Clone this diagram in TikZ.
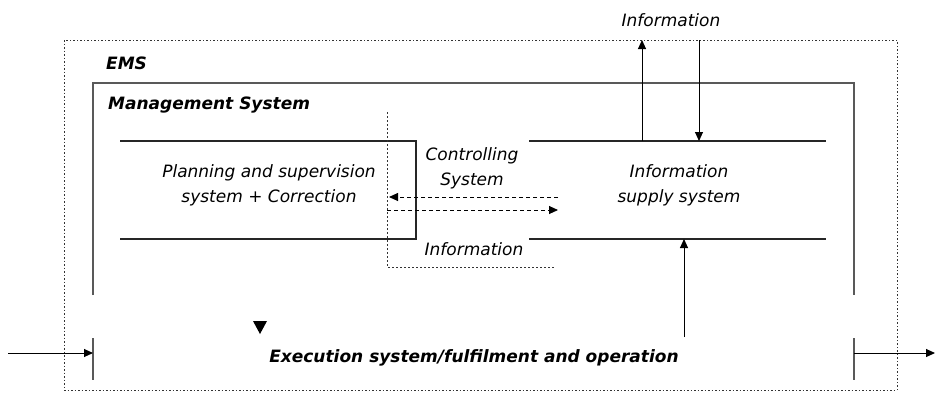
\documentclass[tikz,border=0pt]{standalone}
\usepackage{fontspec}
\setmainfont{DejaVu Sans}
\usetikzlibrary{arrows.meta,positioning}
\tikzset{
  lbl/.style={font=\fontsize{17}{25}\selectfont\itshape,align=center,inner sep=1pt},
  title/.style={font=\fontsize{17}{20}\selectfont\bfseries\itshape,anchor=west,inner sep=1pt},
  frame/.style={draw=black!65,line width=1.4pt},
  wall/.style={draw=black!85,line width=1.1pt},
  emsbox/.style={draw=black!80,line width=0.9pt,dash pattern=on 1.5pt off 2pt},
  ctrlbox/.style={draw=black!80,line width=0.9pt,dash pattern=on 1.5pt off 2.5pt},
  flow/.style={-{Triangle[length=9pt,width=8pt]},draw=black,line width=1pt},
  ctrl/.style={-{Triangle[length=9pt,width=8pt]},draw=black,line width=0.9pt,dash pattern=on 4pt off 3pt}
}
\begin{document}
\begin{tikzpicture}[x=1pt,y=-1pt]
\useasboundingbox (0,0) rectangle (936,392);
% EMS and management frames
\draw[emsbox] (64,40) rectangle (897,390);
\node[title] (ems) at (105,63) {EMS};
\draw[frame] (93,295) -- (93,83) -- (854,83) -- (854,295);
\node[title] (ms) at (107,105) {Management System};
% planning box
\draw[wall] (120,141) -- (416,141) -- (416,239) -- (120,239);
\node[lbl] (plan) at (269,185) {Planning and supervision\\system + Correction};
% information supply box
\draw[wall] (529,141) -- (826,141);
\draw[wall] (529,239) -- (826,239);
\node[lbl] (supply) at (679,185) {Information\\supply system};
% controlling system
\draw[ctrlbox] (387,112) -- (387,267) -- (555,267);
\node[lbl] (ctrlsys) at (472,168) {Controlling\\System};
\node[lbl] (ctrlinfo) at (474,249) {Information};
\coordinate (cR1) at (558,197);
\coordinate (cL1) at (389,197);
\coordinate (cL2) at (387,210);
\coordinate (cR2) at (558,210);
\draw[ctrl] (cR1) -- (cL1);
\draw[ctrl] (cL2) -- (cR2);
% information to and from outside
\node[lbl] (topinfo) at (671,20) {Information};
\coordinate (sOut) at (642,141);
\coordinate (eOut) at (642,40);
\coordinate (eIn) at (699,40);
\coordinate (sIn) at (699,141);
\draw[flow] (sOut) -- (eOut);
\draw[flow] (eIn) -- (sIn);
% execution system
\node[title,anchor=center] (exec) at (474,358) {Execution system/fulfilment and operation};
\coordinate (xUp) at (684,337);
\coordinate (sBot) at (684,239);
\draw[flow] (xUp) -- (sBot);
\fill (253,321) -- (267,321) -- (260,334) -- cycle;
\draw[frame] (93,338) -- (93,380);
\draw[frame] (854,338) -- (854,380);
\coordinate (inStart) at (8,353);
\coordinate (inEnd) at (93,353);
\coordinate (outStart) at (854,353);
\coordinate (outEnd) at (935,353);
\draw[flow] (inStart) -- (inEnd);
\draw[flow] (outStart) -- (outEnd);
\end{tikzpicture}
\end{document}
